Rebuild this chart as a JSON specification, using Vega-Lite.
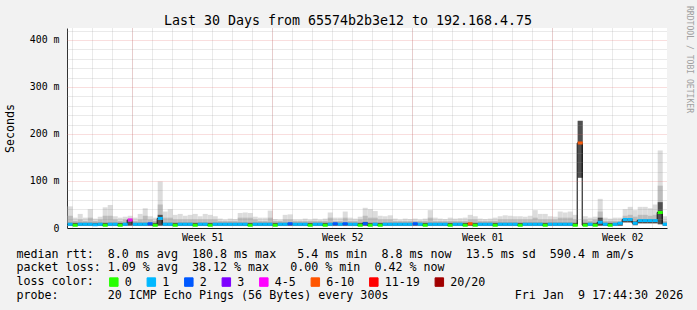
{
  "$schema": "https://vega.github.io/schema/vega-lite/v6.json",
  "width": 600,
  "height": 200,
  "autosize": {"type": "none"},
  "padding": {"left": 67, "top": 28, "right": 30, "bottom": 82},
  "background": "#f2f2f2",
  "config": {"view": {"fill": "#ffffff", "stroke": null}},
  "data": {"values": [
    {"t":"2025-12-10T18:00Z","lo":5,"dk":11,"mid":26,"hi":46,"med":8,"loss":"1"},
    {"t":"2025-12-11T00:00Z","lo":5,"dk":11,"mid":15,"hi":22,"med":6,"loss":"0"},
    {"t":"2025-12-11T06:00Z","lo":5,"dk":11,"mid":18,"hi":30,"med":8,"loss":"1"},
    {"t":"2025-12-11T12:00Z","lo":5,"dk":11,"mid":15,"hi":22,"med":8,"loss":"1"},
    {"t":"2025-12-11T18:00Z","lo":5,"dk":11,"mid":22,"hi":40,"med":8,"loss":"1"},
    {"t":"2025-12-12T00:00Z","lo":5,"dk":11,"mid":15,"hi":20,"med":7,"loss":"1"},
    {"t":"2025-12-12T06:00Z","lo":5,"dk":11,"mid":18,"hi":24,"med":8,"loss":"1"},
    {"t":"2025-12-12T12:00Z","lo":5,"dk":11,"mid":26,"hi":44,"med":6,"loss":"0"},
    {"t":"2025-12-12T18:00Z","lo":5,"dk":11,"mid":26,"hi":49,"med":8,"loss":"1"},
    {"t":"2025-12-13T00:00Z","lo":5,"dk":11,"mid":18,"hi":25,"med":8,"loss":"1"},
    {"t":"2025-12-13T06:00Z","lo":5,"dk":11,"mid":15,"hi":22,"med":6,"loss":"0"},
    {"t":"2025-12-13T12:00Z","lo":5,"dk":11,"mid":18,"hi":24,"med":8,"loss":"1"},
    {"t":"2025-12-13T18:00Z","lo":5,"dk":14,"mid":20,"hi":26,"med":17,"loss":"4-5"},
    {"t":"2025-12-14T00:00Z","lo":5,"dk":11,"mid":15,"hi":22,"med":8,"loss":"1"},
    {"t":"2025-12-14T06:00Z","lo":5,"dk":11,"mid":18,"hi":30,"med":8,"loss":"1"},
    {"t":"2025-12-14T12:00Z","lo":5,"dk":11,"mid":26,"hi":42,"med":8,"loss":"1"},
    {"t":"2025-12-14T18:00Z","lo":5,"dk":11,"mid":18,"hi":25,"med":9,"loss":"2"},
    {"t":"2025-12-15T00:00Z","lo":5,"dk":11,"mid":15,"hi":22,"med":6,"loss":"0"},
    {"t":"2025-12-15T06:00Z","lo":5,"dk":28,"mid":50,"hi":99,"med":20,"loss":"1"},
    {"t":"2025-12-15T12:00Z","lo":5,"dk":11,"mid":22,"hi":35,"med":8,"loss":"1"},
    {"t":"2025-12-15T18:00Z","lo":5,"dk":11,"mid":22,"hi":40,"med":8,"loss":"1"},
    {"t":"2025-12-16T00:00Z","lo":5,"dk":11,"mid":18,"hi":28,"med":6,"loss":"0"},
    {"t":"2025-12-16T06:00Z","lo":5,"dk":11,"mid":18,"hi":30,"med":8,"loss":"1"},
    {"t":"2025-12-16T12:00Z","lo":5,"dk":11,"mid":18,"hi":26,"med":8,"loss":"1"},
    {"t":"2025-12-16T18:00Z","lo":5,"dk":11,"mid":18,"hi":28,"med":8,"loss":"1"},
    {"t":"2025-12-17T00:00Z","lo":5,"dk":11,"mid":18,"hi":30,"med":6,"loss":"0"},
    {"t":"2025-12-17T06:00Z","lo":5,"dk":11,"mid":18,"hi":25,"med":8,"loss":"1"},
    {"t":"2025-12-17T12:00Z","lo":5,"dk":11,"mid":18,"hi":30,"med":8,"loss":"1"},
    {"t":"2025-12-17T18:00Z","lo":5,"dk":11,"mid":18,"hi":28,"med":6,"loss":"0"},
    {"t":"2025-12-18T00:00Z","lo":5,"dk":11,"mid":18,"hi":25,"med":8,"loss":"1"},
    {"t":"2025-12-18T06:00Z","lo":5,"dk":11,"mid":15,"hi":20,"med":8,"loss":"1"},
    {"t":"2025-12-18T12:00Z","lo":5,"dk":11,"mid":15,"hi":18,"med":8,"loss":"1"},
    {"t":"2025-12-18T18:00Z","lo":5,"dk":11,"mid":15,"hi":20,"med":8,"loss":"1"},
    {"t":"2025-12-19T00:00Z","lo":5,"dk":11,"mid":15,"hi":19,"med":8,"loss":"1"},
    {"t":"2025-12-19T06:00Z","lo":5,"dk":11,"mid":22,"hi":32,"med":8,"loss":"1"},
    {"t":"2025-12-19T12:00Z","lo":5,"dk":11,"mid":22,"hi":33,"med":8,"loss":"1"},
    {"t":"2025-12-19T18:00Z","lo":5,"dk":11,"mid":22,"hi":32,"med":6,"loss":"0"},
    {"t":"2025-12-20T00:00Z","lo":5,"dk":11,"mid":18,"hi":24,"med":8,"loss":"1"},
    {"t":"2025-12-20T06:00Z","lo":5,"dk":11,"mid":15,"hi":22,"med":8,"loss":"1"},
    {"t":"2025-12-20T12:00Z","lo":5,"dk":11,"mid":15,"hi":22,"med":8,"loss":"1"},
    {"t":"2025-12-20T18:00Z","lo":5,"dk":11,"mid":22,"hi":37,"med":8,"loss":"1"},
    {"t":"2025-12-21T00:00Z","lo":5,"dk":11,"mid":15,"hi":19,"med":6,"loss":"0"},
    {"t":"2025-12-21T06:00Z","lo":5,"dk":11,"mid":15,"hi":18,"med":8,"loss":"1"},
    {"t":"2025-12-21T12:00Z","lo":5,"dk":11,"mid":18,"hi":28,"med":8,"loss":"1"},
    {"t":"2025-12-21T18:00Z","lo":5,"dk":11,"mid":18,"hi":29,"med":9,"loss":"2"},
    {"t":"2025-12-22T00:00Z","lo":5,"dk":11,"mid":15,"hi":18,"med":8,"loss":"1"},
    {"t":"2025-12-22T06:00Z","lo":5,"dk":11,"mid":15,"hi":18,"med":8,"loss":"1"},
    {"t":"2025-12-22T12:00Z","lo":5,"dk":11,"mid":15,"hi":20,"med":8,"loss":"1"},
    {"t":"2025-12-22T18:00Z","lo":5,"dk":11,"mid":15,"hi":18,"med":6,"loss":"0"},
    {"t":"2025-12-23T00:00Z","lo":5,"dk":11,"mid":15,"hi":20,"med":8,"loss":"1"},
    {"t":"2025-12-23T06:00Z","lo":5,"dk":11,"mid":15,"hi":18,"med":8,"loss":"1"},
    {"t":"2025-12-23T12:00Z","lo":5,"dk":11,"mid":15,"hi":20,"med":6,"loss":"0"},
    {"t":"2025-12-23T18:00Z","lo":5,"dk":11,"mid":22,"hi":33,"med":8,"loss":"1"},
    {"t":"2025-12-24T00:00Z","lo":5,"dk":11,"mid":15,"hi":22,"med":9,"loss":"2"},
    {"t":"2025-12-24T06:00Z","lo":5,"dk":11,"mid":15,"hi":22,"med":8,"loss":"1"},
    {"t":"2025-12-24T12:00Z","lo":5,"dk":11,"mid":22,"hi":35,"med":9,"loss":"2"},
    {"t":"2025-12-24T18:00Z","lo":5,"dk":11,"mid":15,"hi":22,"med":8,"loss":"1"},
    {"t":"2025-12-25T00:00Z","lo":5,"dk":11,"mid":15,"hi":20,"med":8,"loss":"1"},
    {"t":"2025-12-25T06:00Z","lo":5,"dk":11,"mid":18,"hi":24,"med":6,"loss":"0"},
    {"t":"2025-12-25T12:00Z","lo":5,"dk":13,"mid":26,"hi":43,"med":9,"loss":"2"},
    {"t":"2025-12-25T18:00Z","lo":5,"dk":11,"mid":22,"hi":40,"med":6,"loss":"0"},
    {"t":"2025-12-26T00:00Z","lo":5,"dk":11,"mid":22,"hi":36,"med":8,"loss":"1"},
    {"t":"2025-12-26T06:00Z","lo":5,"dk":11,"mid":18,"hi":26,"med":6,"loss":"0"},
    {"t":"2025-12-26T12:00Z","lo":5,"dk":11,"mid":18,"hi":25,"med":8,"loss":"1"},
    {"t":"2025-12-26T18:00Z","lo":5,"dk":11,"mid":18,"hi":27,"med":8,"loss":"1"},
    {"t":"2025-12-27T00:00Z","lo":5,"dk":11,"mid":15,"hi":20,"med":8,"loss":"1"},
    {"t":"2025-12-27T06:00Z","lo":5,"dk":11,"mid":15,"hi":18,"med":8,"loss":"1"},
    {"t":"2025-12-27T12:00Z","lo":5,"dk":11,"mid":15,"hi":20,"med":8,"loss":"1"},
    {"t":"2025-12-27T18:00Z","lo":5,"dk":11,"mid":15,"hi":19,"med":8,"loss":"1"},
    {"t":"2025-12-28T00:00Z","lo":5,"dk":11,"mid":15,"hi":20,"med":9,"loss":"2"},
    {"t":"2025-12-28T06:00Z","lo":5,"dk":11,"mid":15,"hi":18,"med":8,"loss":"1"},
    {"t":"2025-12-28T12:00Z","lo":5,"dk":11,"mid":15,"hi":20,"med":6,"loss":"0"},
    {"t":"2025-12-28T18:00Z","lo":5,"dk":11,"mid":22,"hi":38,"med":8,"loss":"1"},
    {"t":"2025-12-29T00:00Z","lo":5,"dk":11,"mid":15,"hi":22,"med":8,"loss":"1"},
    {"t":"2025-12-29T06:00Z","lo":5,"dk":11,"mid":15,"hi":20,"med":8,"loss":"1"},
    {"t":"2025-12-29T12:00Z","lo":5,"dk":11,"mid":15,"hi":19,"med":8,"loss":"1"},
    {"t":"2025-12-29T18:00Z","lo":5,"dk":11,"mid":15,"hi":22,"med":6,"loss":"0"},
    {"t":"2025-12-30T00:00Z","lo":5,"dk":11,"mid":15,"hi":20,"med":8,"loss":"1"},
    {"t":"2025-12-30T06:00Z","lo":5,"dk":11,"mid":15,"hi":21,"med":8,"loss":"1"},
    {"t":"2025-12-30T12:00Z","lo":5,"dk":11,"mid":15,"hi":22,"med":6,"loss":"0"},
    {"t":"2025-12-30T18:00Z","lo":5,"dk":11,"mid":18,"hi":28,"med":9,"loss":"6-10"},
    {"t":"2025-12-31T00:00Z","lo":5,"dk":11,"mid":18,"hi":25,"med":6,"loss":"0"},
    {"t":"2025-12-31T06:00Z","lo":5,"dk":11,"mid":15,"hi":20,"med":8,"loss":"1"},
    {"t":"2025-12-31T12:00Z","lo":5,"dk":11,"mid":15,"hi":19,"med":8,"loss":"1"},
    {"t":"2025-12-31T18:00Z","lo":5,"dk":11,"mid":15,"hi":20,"med":8,"loss":"1"},
    {"t":"2026-01-01T00:00Z","lo":5,"dk":11,"mid":15,"hi":22,"med":6,"loss":"0"},
    {"t":"2026-01-01T06:00Z","lo":5,"dk":11,"mid":18,"hi":25,"med":8,"loss":"1"},
    {"t":"2026-01-01T12:00Z","lo":5,"dk":11,"mid":18,"hi":27,"med":8,"loss":"1"},
    {"t":"2026-01-01T18:00Z","lo":5,"dk":11,"mid":18,"hi":26,"med":8,"loss":"1"},
    {"t":"2026-01-02T00:00Z","lo":5,"dk":11,"mid":18,"hi":25,"med":8,"loss":"1"},
    {"t":"2026-01-02T06:00Z","lo":5,"dk":11,"mid":18,"hi":25,"med":6,"loss":"0"},
    {"t":"2026-01-02T12:00Z","lo":5,"dk":11,"mid":18,"hi":24,"med":8,"loss":"1"},
    {"t":"2026-01-02T18:00Z","lo":5,"dk":11,"mid":18,"hi":26,"med":8,"loss":"1"},
    {"t":"2026-01-03T00:00Z","lo":5,"dk":11,"mid":22,"hi":38,"med":8,"loss":"1"},
    {"t":"2026-01-03T06:00Z","lo":5,"dk":11,"mid":18,"hi":30,"med":8,"loss":"1"},
    {"t":"2026-01-03T12:00Z","lo":5,"dk":11,"mid":18,"hi":30,"med":6,"loss":"0"},
    {"t":"2026-01-03T18:00Z","lo":5,"dk":11,"mid":18,"hi":25,"med":8,"loss":"1"},
    {"t":"2026-01-04T00:00Z","lo":5,"dk":11,"mid":18,"hi":24,"med":8,"loss":"1"},
    {"t":"2026-01-04T06:00Z","lo":5,"dk":11,"mid":22,"hi":35,"med":8,"loss":"1"},
    {"t":"2026-01-04T12:00Z","lo":5,"dk":11,"mid":22,"hi":33,"med":8,"loss":"1"},
    {"t":"2026-01-04T18:00Z","lo":5,"dk":11,"mid":22,"hi":35,"med":8,"loss":"1"},
    {"t":"2026-01-05T00:00Z","lo":5,"dk":11,"mid":18,"hi":28,"med":6,"loss":"0"},
    {"t":"2026-01-05T06:00Z","lo":107,"dk":228,"mid":228,"hi":228,"med":180.8,"loss":"6-10"},
    {"t":"2026-01-05T12:00Z","lo":5,"dk":11,"mid":18,"hi":25,"med":6,"loss":"0"},
    {"t":"2026-01-05T18:00Z","lo":5,"dk":11,"mid":15,"hi":22,"med":8,"loss":"1"},
    {"t":"2026-01-06T00:00Z","lo":5,"dk":11,"mid":18,"hi":24,"med":6,"loss":"0"},
    {"t":"2026-01-06T06:00Z","lo":5,"dk":22,"mid":35,"hi":62,"med":12,"loss":"1"},
    {"t":"2026-01-06T12:00Z","lo":5,"dk":11,"mid":15,"hi":22,"med":8,"loss":"1"},
    {"t":"2026-01-06T18:00Z","lo":5,"dk":11,"mid":15,"hi":20,"med":6,"loss":"0"},
    {"t":"2026-01-07T00:00Z","lo":5,"dk":11,"mid":15,"hi":22,"med":8,"loss":"1"},
    {"t":"2026-01-07T06:00Z","lo":5,"dk":11,"mid":15,"hi":22,"med":10,"loss":"1"},
    {"t":"2026-01-07T12:00Z","lo":12,"dk":20,"mid":26,"hi":40,"med":18,"loss":"1"},
    {"t":"2026-01-07T18:00Z","lo":12,"dk":20,"mid":28,"hi":45,"med":18,"loss":"1"},
    {"t":"2026-01-08T00:00Z","lo":6,"dk":14,"mid":24,"hi":38,"med":10,"loss":"1"},
    {"t":"2026-01-08T06:00Z","lo":10,"dk":19,"mid":28,"hi":45,"med":16,"loss":"1"},
    {"t":"2026-01-08T12:00Z","lo":10,"dk":19,"mid":28,"hi":45,"med":16,"loss":"1"},
    {"t":"2026-01-08T18:00Z","lo":10,"dk":19,"mid":26,"hi":42,"med":16,"loss":"1"},
    {"t":"2026-01-09T00:00Z","lo":10,"dk":19,"mid":28,"hi":50,"med":16,"loss":"1"},
    {"t":"2026-01-09T06:00Z","lo":8,"dk":55,"mid":90,"hi":165,"med":33,"loss":"0"},
    {"t":"2026-01-09T12:00Z","lo":5,"dk":11,"mid":15,"hi":25,"med":8,"loss":"1"}
  ]},
  "resolve": {"axis": {"x": "independent", "y": "independent"}},
  "layer": [
    {
      "mark": {"type": "rect", "color": "#dcdcdc", "clip": true},
      "encoding": {
        "x": {"field": "t", "type": "temporal", "timeUnit": {"unit": "utcyearmonthdatehours", "step": 6},
          "scale": {"type": "utc", "nice": false, "domain": [{"year": 2025, "month": 12, "date": 10, "hours": 17, "minutes": 44, "seconds": 30, "utc": true}, {"year": 2026, "month": 1, "date": 9, "hours": 17, "minutes": 44, "seconds": 30, "utc": true}]},
          "axis": {"orient": "bottom", "grid": true, "gridColor": "#8f8f8f", "gridOpacity": 0.38, "gridDash": [1, 1], "labels": false, "ticks": false, "domain": false, "title": null, "zindex": 1,
            "values": [
              {"year": 2025, "month": 12, "date": 11, "utc": true}, {"year": 2025, "month": 12, "date": 12, "utc": true},
              {"year": 2025, "month": 12, "date": 13, "utc": true}, {"year": 2025, "month": 12, "date": 14, "utc": true},
              {"year": 2025, "month": 12, "date": 15, "utc": true}, {"year": 2025, "month": 12, "date": 16, "utc": true},
              {"year": 2025, "month": 12, "date": 17, "utc": true}, {"year": 2025, "month": 12, "date": 18, "utc": true},
              {"year": 2025, "month": 12, "date": 19, "utc": true}, {"year": 2025, "month": 12, "date": 20, "utc": true},
              {"year": 2025, "month": 12, "date": 21, "utc": true}, {"year": 2025, "month": 12, "date": 22, "utc": true},
              {"year": 2025, "month": 12, "date": 23, "utc": true}, {"year": 2025, "month": 12, "date": 24, "utc": true},
              {"year": 2025, "month": 12, "date": 25, "utc": true}, {"year": 2025, "month": 12, "date": 26, "utc": true},
              {"year": 2025, "month": 12, "date": 27, "utc": true}, {"year": 2025, "month": 12, "date": 28, "utc": true},
              {"year": 2025, "month": 12, "date": 29, "utc": true}, {"year": 2025, "month": 12, "date": 30, "utc": true},
              {"year": 2025, "month": 12, "date": 31, "utc": true}, {"year": 2026, "month": 1, "date": 1, "utc": true},
              {"year": 2026, "month": 1, "date": 2, "utc": true}, {"year": 2026, "month": 1, "date": 3, "utc": true},
              {"year": 2026, "month": 1, "date": 4, "utc": true}, {"year": 2026, "month": 1, "date": 5, "utc": true},
              {"year": 2026, "month": 1, "date": 6, "utc": true}, {"year": 2026, "month": 1, "date": 7, "utc": true},
              {"year": 2026, "month": 1, "date": 8, "utc": true}, {"year": 2026, "month": 1, "date": 9, "utc": true}
            ]}},
        "y": {"field": "lo", "type": "quantitative", "scale": {"domain": [0, 425.5], "nice": false, "zero": false},
          "axis": {"orient": "left", "grid": true, "gridColor": "#8f8f8f", "gridOpacity": 0.38, "gridDash": [1, 1], "labels": false, "ticks": false, "domain": false, "title": null, "zindex": 1,
            "values": [20, 40, 60, 80, 120, 140, 160, 180, 220, 240, 260, 280, 320, 340, 360, 380, 420]}},
        "y2": {"field": "hi"}
      }
    },
    {
      "mark": {"type": "rect", "color": "#bcbcbc", "clip": true},
      "encoding": {
        "x": {"field": "t", "type": "temporal", "timeUnit": {"unit": "utcyearmonthdatehours", "step": 6},
          "scale": {"type": "utc", "nice": false, "domain": [{"year": 2025, "month": 12, "date": 10, "hours": 17, "minutes": 44, "seconds": 30, "utc": true}, {"year": 2026, "month": 1, "date": 9, "hours": 17, "minutes": 44, "seconds": 30, "utc": true}]},
          "axis": {"orient": "bottom", "grid": true, "gridColor": "#e06060", "gridOpacity": 0.42, "gridDash": [1, 1], "labels": false, "ticks": false, "domain": false, "title": null, "zindex": 1,
            "values": [
              {"year": 2025, "month": 12, "date": 14, "utc": true}, {"year": 2025, "month": 12, "date": 21, "utc": true},
              {"year": 2025, "month": 12, "date": 28, "utc": true}, {"year": 2026, "month": 1, "date": 4, "utc": true}
            ]}},
        "y": {"field": "lo", "type": "quantitative", "scale": {"domain": [0, 425.5], "nice": false, "zero": false},
          "axis": {"orient": "left", "grid": true, "gridColor": "#e06060", "gridOpacity": 0.42, "gridDash": [1, 1], "labels": false, "ticks": false, "domain": false, "title": null, "zindex": 1,
            "values": [100, 200, 300, 400]}},
        "y2": {"field": "mid"}
      }
    },
    {
      "mark": {"type": "rect", "color": "#505050", "clip": true},
      "encoding": {
        "x": {"field": "t", "type": "temporal", "timeUnit": {"unit": "utcyearmonthdatehours", "step": 6},
          "scale": {"type": "utc", "nice": false, "domain": [{"year": 2025, "month": 12, "date": 10, "hours": 17, "minutes": 44, "seconds": 30, "utc": true}, {"year": 2026, "month": 1, "date": 9, "hours": 17, "minutes": 44, "seconds": 30, "utc": true}]},
          "axis": {"orient": "bottom", "grid": false, "ticks": false, "domain": true, "domainColor": "#111111", "domainWidth": 1,
            "values": [
              {"year": 2025, "month": 12, "date": 17, "hours": 12, "utc": true}, {"year": 2025, "month": 12, "date": 24, "hours": 12, "utc": true},
              {"year": 2025, "month": 12, "date": 31, "hours": 12, "utc": true}, {"year": 2026, "month": 1, "date": 7, "hours": 12, "utc": true}
            ],
            "format": "Week %V", "labelFont": "DejaVu Sans Mono", "labelFontSize": 9.9, "labelColor": "#000000", "labelPadding": 4, "labelFlush": false, "labelOverlap": false,
            "title": [
              "median\u00a0rtt:\u00a0\u00a08.0\u00a0ms\u00a0avg\u00a0\u00a0180.8\u00a0ms\u00a0max\u00a0\u00a0\u00a05.4\u00a0ms\u00a0min\u00a0\u00a08.8\u00a0ms\u00a0now\u00a0\u00a013.5\u00a0ms\u00a0sd\u00a0\u00a0590.4\u00a0m\u00a0am/s",
              "packet\u00a0loss:\u00a01.09\u00a0%\u00a0avg\u00a0\u00a038.12\u00a0%\u00a0max\u00a0\u00a0\u00a00.00\u00a0%\u00a0min\u00a0\u00a00.42\u00a0%\u00a0now",
              "loss\u00a0color:",
              "probe:\u00a0\u00a0\u00a0\u00a0\u00a0\u00a0\u00a020\u00a0ICMP\u00a0Echo\u00a0Pings\u00a0(56\u00a0Bytes)\u00a0every\u00a0300s\u00a0\u00a0\u00a0\u00a0\u00a0\u00a0\u00a0\u00a0\u00a0\u00a0\u00a0\u00a0\u00a0\u00a0\u00a0\u00a0\u00a0\u00a0Fri\u00a0Jan\u00a0\u00a09\u00a017:44:30\u00a02026"
            ],
            "titleFont": "DejaVu Sans Mono", "titleFontSize": 11.67, "titleFontWeight": "normal", "titleColor": "#000000",
            "titleX": -51, "titleY": 20, "titleAlign": "left", "titleBaseline": "top", "titleLineHeight": 13.9}},
        "y": {"field": "lo", "type": "quantitative", "scale": {"domain": [0, 425.5], "nice": false, "zero": false},
          "axis": {"orient": "left", "grid": false, "ticks": false, "domain": true, "domainColor": "#333333", "domainWidth": 1,
            "values": [0, 100, 200, 300, 400],
            "labelExpr": "datum.value == 0 ? '0\u00a0\u00a0' : datum.value + '\u00a0m'",
            "labelFont": "DejaVu Sans Mono", "labelFontSize": 9.9, "labelColor": "#000000", "labelPadding": 8,
            "title": "Seconds", "titleFont": "DejaVu Sans Mono", "titleFontSize": 11.67, "titleFontWeight": "normal", "titleColor": "#000000",
            "titleX": -57.5, "titleY": 100, "titleAngle": 270, "titleAlign": "center", "titleBaseline": "middle"}},
        "y2": {"field": "dk"}
      }
    },
    {
      "mark": {"type": "line", "interpolate": "step-after", "color": "#000000", "strokeWidth": 1, "clip": true},
      "encoding": {
        "x": {"field": "t", "type": "temporal",
          "scale": {"type": "utc", "nice": false, "domain": [{"year": 2025, "month": 12, "date": 10, "hours": 17, "minutes": 44, "seconds": 30, "utc": true}, {"year": 2026, "month": 1, "date": 9, "hours": 17, "minutes": 44, "seconds": 30, "utc": true}]},
          "axis": {"orient": "top", "grid": false, "labels": false, "ticks": false, "domain": false,
            "title": "Last 30 Days from 65574b2b3e12 to 192.168.4.75",
            "titleFont": "DejaVu Sans Mono", "titleFontSize": 13.3, "titleFontWeight": "normal", "titleColor": "#000000",
            "titleX": 280.5, "titleY": -4, "titleAlign": "center", "titleBaseline": "alphabetic"}},
        "y": {"field": "med", "type": "quantitative", "scale": {"domain": [0, 425.5], "nice": false, "zero": false},
          "axis": {"orient": "right", "grid": false, "labels": false, "ticks": false, "domain": false,
            "title": "RRDTOOL / TOBI OETIKER",
            "titleFont": "DejaVu Sans Mono", "titleFontSize": 8.1, "titleFontWeight": "normal", "titleColor": "#a0a0a0",
            "titleX": 21, "titleY": 31, "titleAngle": 90, "titleAlign": "center", "titleBaseline": "middle"}}
      }
    },
    {
      "mark": {"type": "rect", "filled": false, "strokeWidth": 3, "clip": true},
      "encoding": {
        "x": {"field": "t", "type": "temporal", "timeUnit": {"unit": "utcyearmonthdatehours", "step": 6},
          "scale": {"type": "utc", "nice": false, "domain": [{"year": 2025, "month": 12, "date": 10, "hours": 17, "minutes": 44, "seconds": 30, "utc": true}, {"year": 2026, "month": 1, "date": 9, "hours": 17, "minutes": 44, "seconds": 30, "utc": true}]},
          "axis": null},
        "y": {"field": "med", "type": "quantitative", "scale": {"domain": [0, 425.5], "nice": false, "zero": false}, "axis": null},
        "y2": {"field": "med"},
        "stroke": {"field": "loss", "type": "nominal",
          "scale": {"domain": ["0", "1", "2", "3", "4-5", "6-10", "11-19", "20/20"],
                    "range": ["#26ff00", "#00b8ff", "#0059ff", "#7e00ff", "#ff00ff", "#ff5500", "#ff0000", "#a10000"]},
          "legend": {"orient": "none", "legendX": 41, "legendY": 248, "direction": "horizontal", "padding": 0,
            "title": null,
            "labelFont": "DejaVu Sans Mono", "labelFontSize": 11.67, "labelColor": "#000000", "labelOffset": 5,
            "columnPadding": 12.5, "symbolType": "square", "symbolSize": 72, "symbolStrokeWidth": 1,
            "encode": {"symbols": {"update": {"fill": {"scale": "stroke", "field": "value"}, "stroke": {"value": "#000000"}, "strokeWidth": {"value": 1}, "opacity": {"value": 1}, "fillOpacity": {"value": 1}}}}}}
      }
    }
  ]
}
